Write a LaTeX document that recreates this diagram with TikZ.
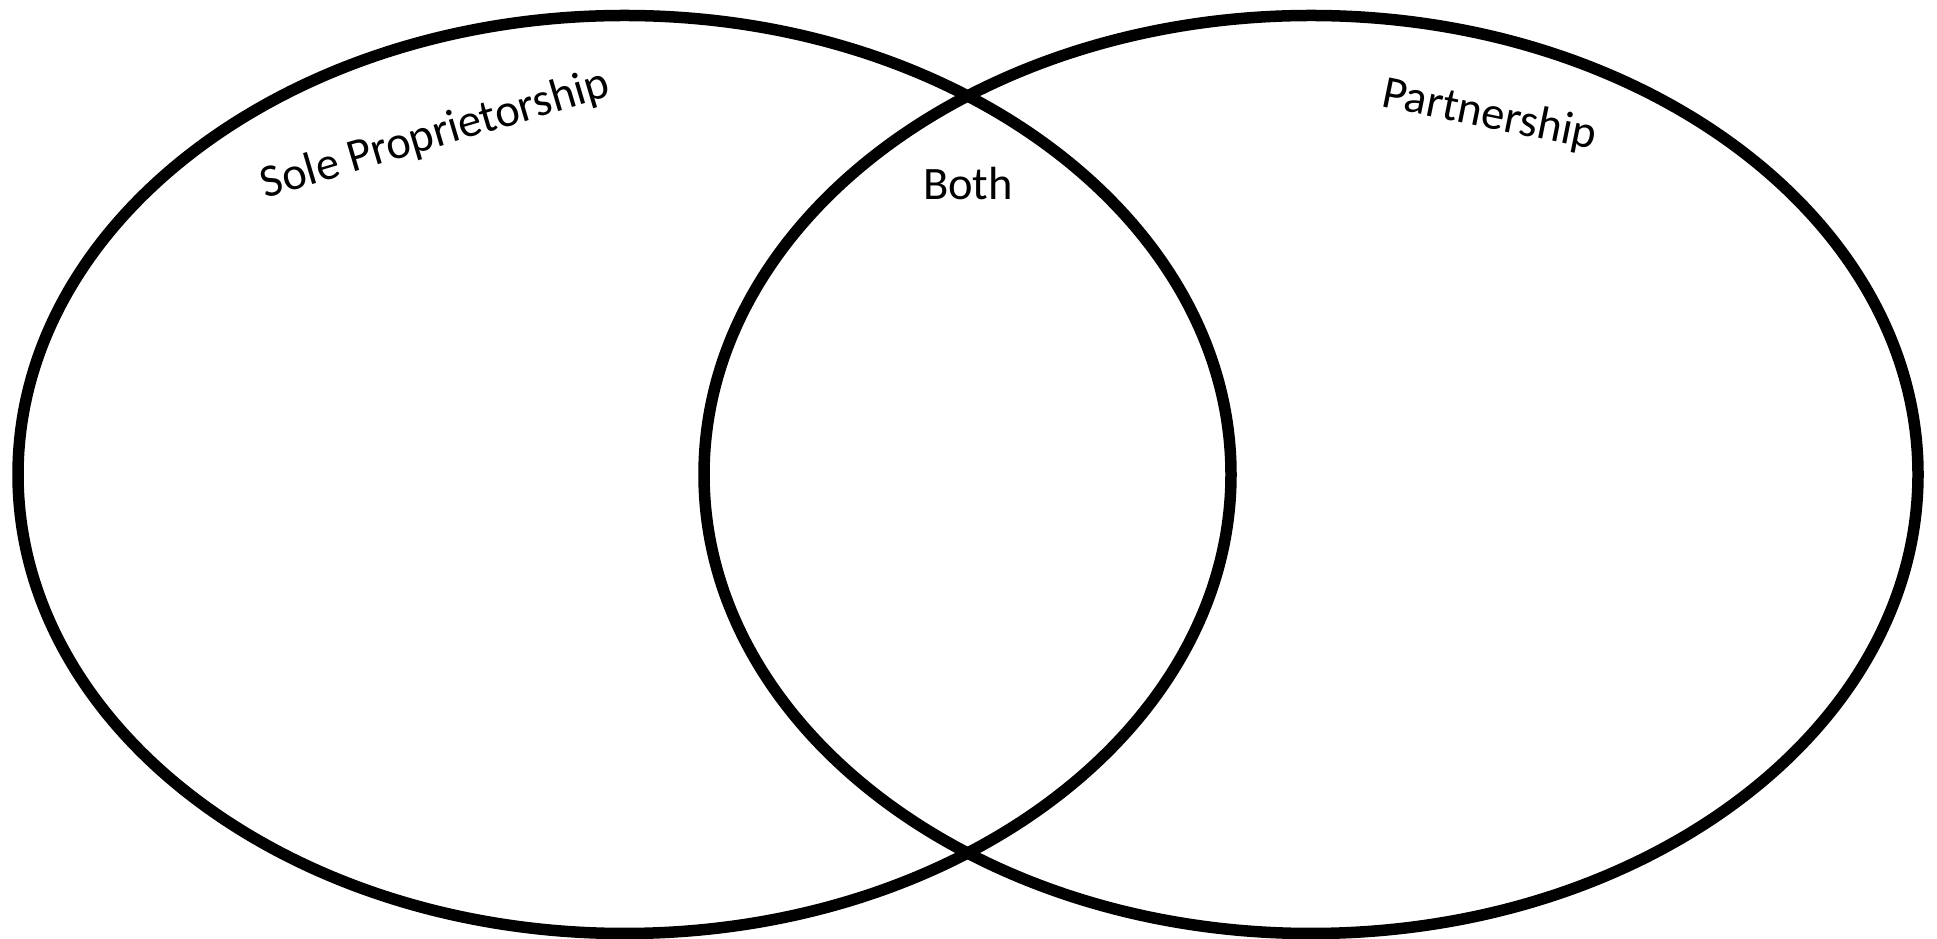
\documentclass[tikz,border=0pt]{standalone}
\usepackage{fontspec}
\setmainfont{Carlito}
\begin{document}
\begin{tikzpicture}[x=1pt,y=1pt,
  venn/.style={draw=black,line width=11.5pt},
  lbl/.style={anchor=base,inner sep=0pt,font=\fontsize{46.5}{55}\selectfont}]
\useasboundingbox (0,0) rectangle (1937,939);
\fill[white] (0,0) rectangle (1937,939);
\draw[venn] (624.5,464.5) ellipse [x radius=606.5, y radius=459];
\draw[venn] (1311,464.5) ellipse [x radius=607, y radius=459];
\node[lbl,rotate=16.5] (sole) at (439,792) {Sole Proprietorship};
\node[lbl,rotate=-11.5] (part) at (1487,811) {Partnership};
\node[lbl] (both) at (968,739) {Both};
\end{tikzpicture}
\end{document}
